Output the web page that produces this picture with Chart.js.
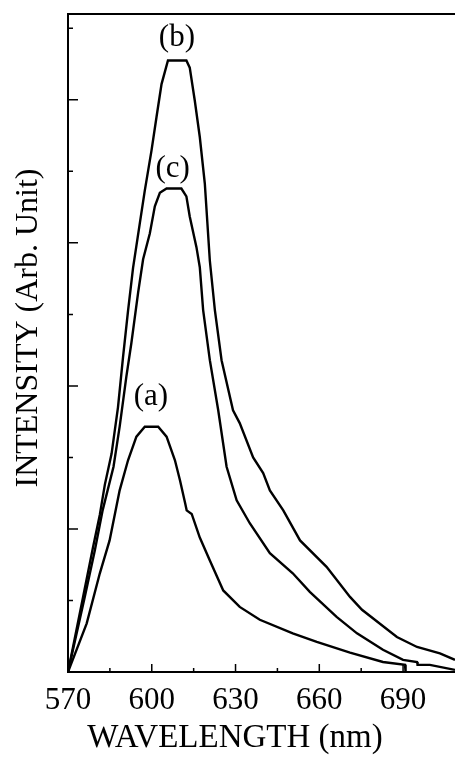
<!DOCTYPE html>
<html>
<head>
<meta charset="utf-8">
<script src="https://cdn.jsdelivr.net/npm/chart.js@4.4.0/dist/chart.umd.min.js"></script>
<style>
    html, body { margin: 0; padding: 0; background: #fff; }
    #wrap { width: 455px; height: 757px; }
</style>
</head>
<body>
<div id="wrap"><canvas id="plChart"></canvas></div>
<script>
// Curve (a)
const waveA = [570, 576.7, 581.4, 584.9, 588.5, 591.5, 594.5, 597.5, 602.3, 605.3, 608.3, 610.1, 611.9, 612.5, 614.3, 617.2, 620.8, 625.6, 631.5, 638.7, 650.5, 659.1, 671.0, 682.8, 690.7, 690.9];
const intensityA = [0, 0.68, 1.38, 1.84, 2.54, 2.96, 3.29, 3.43, 3.43, 3.29, 2.96, 2.68, 2.37, 2.26, 2.21, 1.88, 1.56, 1.14, 0.91, 0.73, 0.54, 0.42, 0.27, 0.14, 0.10, 0];

// Curve (b)
const waveB = [570, 575.4, 579.0, 581.4, 583.2, 585.6, 587.9, 589.7, 591.5, 593.3, 595.7, 597.5, 599.9, 601.7, 603.5, 605.8, 612.4, 613.6, 615.4, 617.2, 619.0, 620.8, 622.6, 625.0, 629.1, 631.5, 636.3, 639.9, 642.3, 647.1, 653.1, 662.6, 671.0, 675.3, 687.8, 695.0, 703.2, 708.6];
const intensityB = [0, 1.05, 1.75, 2.20, 2.62, 3.05, 3.70, 4.40, 5.05, 5.65, 6.27, 6.73, 7.29, 7.76, 8.22, 8.55, 8.55, 8.45, 7.99, 7.48, 6.83, 5.75, 5.06, 4.36, 3.66, 3.48, 3.00, 2.78, 2.54, 2.26, 1.84, 1.47, 1.05, 0.87, 0.49, 0.35, 0.26, 0.17];

// Curve (c)
const waveC = [570, 576.0, 579.6, 582.4, 586.3, 588.5, 590.9, 592.7, 595.1, 596.9, 599.3, 601.1, 602.9, 605.3, 610.6, 612.4, 613.6, 616.0, 617.2, 618.4, 620.8, 623.8, 626.8, 630.4, 635.1, 642.3, 650.5, 656.6, 666.2, 673.5, 682.8, 690.0, 695.0, 695.2, 699.6, 708.6];
const intensityC = [0, 1.05, 1.70, 2.26, 2.87, 3.43, 4.13, 4.60, 5.30, 5.77, 6.13, 6.51, 6.70, 6.76, 6.76, 6.65, 6.37, 5.94, 5.66, 5.06, 4.36, 3.66, 2.87, 2.40, 2.08, 1.66, 1.38, 1.12, 0.77, 0.54, 0.31, 0.17, 0.14, 0.10, 0.10, 0.03];

// Trục
const xTicks = [570, 600, 630, 660, 690];
const xMinorTicks = [585, 615, 645, 675];
const yMajorTicks = [2, 4, 6, 8];
const yMinorTicks = [1, 3, 5, 7, 9];

// Nhãn đỉnh
const peakLabels = ['(a)', '(b)', '(c)'];
const labelWave = [599.7, 609.0, 607.5];
const labelIntensity = [3.84, 8.87, 7.04];

const serif = "'Liberation Serif', 'Times New Roman', serif";

function toPoints(xs, ys) {
    return xs.map(function (x, i) { return { x: x, y: ys[i] }; });
}

function curve(label, xs, ys) {
    return {
        label: label,
        data: toPoints(xs, ys),
        borderColor: '#000',
        borderWidth: 2.4,
        pointRadius: 0,
        tension: 0,
        fill: false
    };
}

// Khung, vạch chia, tiêu đề trục và nhãn
const framePlugin = {
    id: 'frame',
    afterDraw: function (chart) {
        const ctx = chart.ctx;
        const area = chart.chartArea;
        const xs = chart.scales.x;
        const ys = chart.scales.y;

        ctx.save();
        ctx.strokeStyle = '#000';
        ctx.lineWidth = 2;
        ctx.beginPath();
        ctx.moveTo(area.right, area.top);
        ctx.lineTo(area.left, area.top);
        ctx.lineTo(area.left, area.bottom);
        ctx.lineTo(area.right, area.bottom);
        ctx.stroke();

        ctx.lineWidth = 1.5;
        ctx.beginPath();
        xTicks.forEach(function (v) {
            const px = xs.getPixelForValue(v);
            ctx.moveTo(px, area.bottom);
            ctx.lineTo(px, area.bottom - 8);
        });
        xMinorTicks.forEach(function (v) {
            const px = xs.getPixelForValue(v);
            ctx.moveTo(px, area.bottom);
            ctx.lineTo(px, area.bottom - 4);
        });
        yMajorTicks.forEach(function (v) {
            const py = ys.getPixelForValue(v);
            ctx.moveTo(area.left, py);
            ctx.lineTo(area.left + 10, py);
        });
        yMinorTicks.forEach(function (v) {
            const py = ys.getPixelForValue(v);
            ctx.moveTo(area.left, py);
            ctx.lineTo(area.left + 5, py);
        });
        ctx.stroke();

        ctx.fillStyle = '#000';
        ctx.font = '31px ' + serif;
        ctx.textAlign = 'center';
        ctx.textBaseline = 'middle';
        peakLabels.forEach(function (t, i) {
            ctx.fillText(t, xs.getPixelForValue(labelWave[i]), ys.getPixelForValue(labelIntensity[i]));
        });

        // Tiêu đề trục
        ctx.textBaseline = 'alphabetic';
        ctx.font = '33px ' + serif;
        ctx.fillText('WAVELENGTH (nm)', area.left + 167, chart.height - 10);

        ctx.translate(area.left - 31, area.top + 314);
        ctx.rotate(-Math.PI / 2);
        ctx.font = '32px ' + serif;
        ctx.fillText('INTENSITY (Arb. Unit)', 0, 0);
        ctx.restore();
    }
};

const ctx = document.getElementById('plChart').getContext('2d');
const plChart = new Chart(ctx, {
    type: 'line',
    data: {
        datasets: [
            curve('(a)', waveA, intensityA),
            curve('(b)', waveB, intensityB),
            curve('(c)', waveC, intensityC)
        ]
    },
    options: {
        responsive: true,
        maintainAspectRatio: false,
        animation: false,
        layout: { padding: { left: 68, top: 14, right: 0, bottom: 0 } },
        scales: {
            x: {
                type: 'linear',
                min: 570,
                max: 708.6,
                afterBuildTicks: function (scale) {
                    scale.ticks = xTicks.map(function (v) { return { value: v }; });
                },
                // chừa chỗ cho nhãn trục và tiêu đề bên dưới
                afterFit: function (scale) {
                    scale.height = 85;
                },
                grid: { display: false, drawTicks: false },
                border: { display: false },
                ticks: {
                    padding: 10,
                    color: '#000',
                    font: { family: serif, size: 31 },
                    maxRotation: 0,
                    autoSkip: false
                }
            },
            y: {
                display: false,
                min: 0,
                max: 9.2
            }
        },
        plugins: {
            legend: { display: false },
            tooltip: { enabled: false }
        }
    },
    plugins: [framePlugin]
});
</script>
</body>
</html>
